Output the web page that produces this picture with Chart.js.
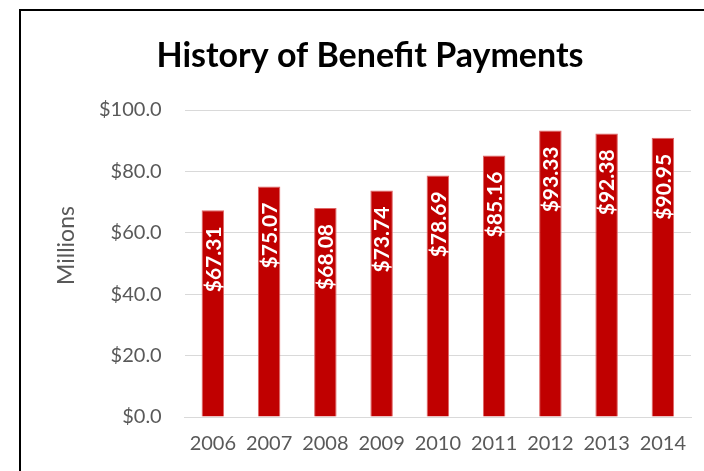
<!DOCTYPE html>
<html>
<head>
<meta charset="utf-8">
<script src="https://cdn.jsdelivr.net/npm/chart.js@4"></script>
<style>
  html, body { margin: 0; padding: 0; background: #fff; }
  #wrap { width: 704px; height: 471px; position: relative; }
</style>
</head>
<body>
<div id="wrap"><canvas id="benefitChart" width="704" height="471"></canvas></div>
<script>
 // Data
 const years = ['2006', '2007', '2008', '2009', '2010', '2011', '2012', '2013', '2014'];
 const payments = [67.31, 75.07, 68.08, 73.74, 78.69, 85.16, 93.33, 92.38, 90.95];
 const yTicks = [0, 20, 40, 60, 80, 100];

 const fontFam = 'Lato, "Open Sans", sans-serif';

 // frame line (left + top only visible), chart title and axis title
 const framePlugin = {
     id: 'frame',
     beforeDraw(chart) {
         const c = chart.ctx;
         c.save();
         c.fillStyle = '#fff';
         c.fillRect(0, 0, chart.width, chart.height);
         c.strokeStyle = '#000';
         c.lineWidth = 2;
         c.beginPath();
         c.moveTo(20, chart.height + 5);
         c.lineTo(20, 10);
         c.lineTo(chart.width + 5, 10);
         c.stroke();
         c.restore();
     },
     afterDraw(chart) {
         const c = chart.ctx;
         const area = chart.chartArea;
         c.save();
         // title, centred on the whole chart box like Excel does
         c.fillStyle = '#000';
         c.font = 'bold 34px ' + fontFam;
         c.textAlign = 'center';
         c.textBaseline = 'middle';
         c.fillText('History of Benefit Payments', 370, 56);
         // "Millions" sits a bit above the middle of the plot
         c.translate(67, (area.top + area.bottom) / 2 - 18);
         c.rotate(-Math.PI / 2);
         c.fillStyle = '#595959';
         c.font = '23px ' + fontFam;
         c.fillText('Millions', 0, 0);
         c.restore();
     }
 };

 // value labels inside bars, rotated
 const barLabels = {
     id: 'barLabels',
     afterDatasetsDraw(chart) {
         const c = chart.ctx;
         const meta = chart.getDatasetMeta(0);
         c.save();
         c.fillStyle = '#fff';
         c.font = 'bold 21px ' + fontFam;
         c.textAlign = 'right';
         c.textBaseline = 'middle';
         meta.data.forEach((bar, i) => {
             c.save();
             c.translate(bar.x, bar.y + 16);
             c.rotate(-Math.PI / 2);
             c.fillText('$' + payments[i].toFixed(2), 0, 1);
             c.restore();
         });
         c.restore();
     }
 };

 const ctx = document.getElementById('benefitChart').getContext('2d');
 let chart = new Chart(ctx, {
     type: 'bar',
     data: {
         labels: years,
         datasets: [{
             data: payments,
             backgroundColor: '#C00000',
             borderColor: '#E06666',
             borderWidth: { top: 1, left: 1, right: 1, bottom: 0 },
             categoryPercentage: 1,
             barPercentage: 0.4
         }]
     },
     options: {
         responsive: false,
         animation: false,
         layout: { padding: { left: 76, right: 13, top: 110, bottom: 0 } },
         plugins: {
             legend: { display: false },
             tooltip: { enabled: false },
             title: { display: false }
         },
         scales: {
             x: {
                 grid: { display: false, drawTicks: false },
                 border: { color: '#d9d9d9', width: 1 },
                 ticks: {
                     color: '#595959',
                     font: { family: fontFam, size: 20 },
                     padding: 15,
                     maxRotation: 0
                 }
             },
             y: {
                 min: 0,
                 max: 100,
                 afterBuildTicks(axis) {
                     axis.ticks = yTicks.map(v => ({ value: v }));
                 },
                 grid: { color: '#d9d9d9', lineWidth: 1, drawTicks: false },
                 border: { display: false },
                 ticks: {
                     color: '#595959',
                     font: { family: fontFam, size: 20 },
                     padding: 23,
                     callback: v => '$' + Number(v).toFixed(1)
                 }
             }
         }
     },
     plugins: [framePlugin, barLabels]
 });
</script>
</body>
</html>
